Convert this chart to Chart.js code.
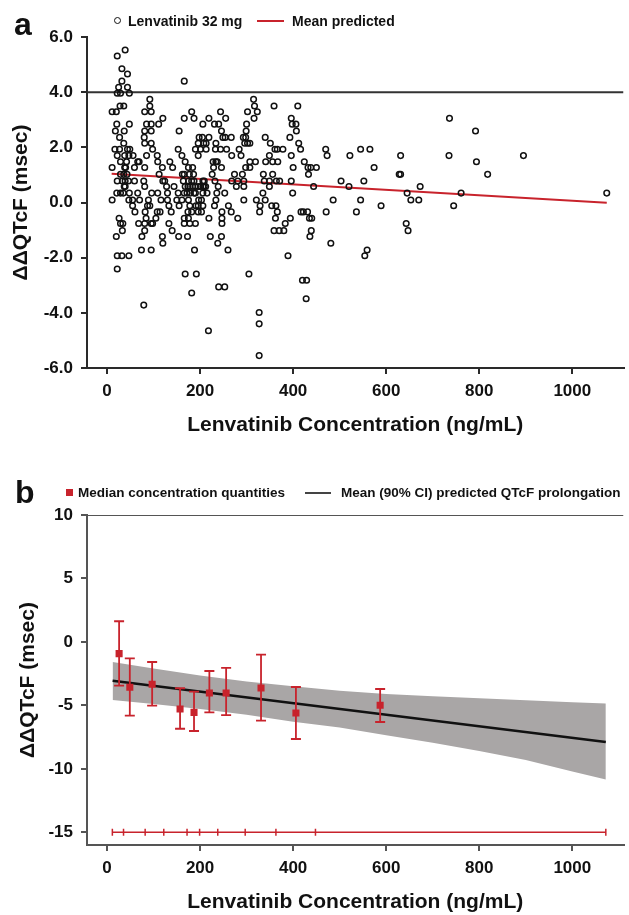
<!DOCTYPE html>
<html>
<head>
<meta charset="utf-8">
<script src="https://cdn.jsdelivr.net/npm/chart.js@4.4.1/dist/chart.umd.min.js"></script>
<style>
html,body{margin:0;padding:0;background:#fff;}
body{width:629px;height:915px;position:relative;overflow:hidden;font-family:"Liberation Sans",Arial,sans-serif;color:#111;}
canvas{position:absolute;left:0;}
#ca{top:0;}
#cb{top:460px;}
.t{position:absolute;font-weight:bold;white-space:nowrap;line-height:1;}
.sw{position:absolute;}
</style>
</head>
<body>
<canvas id="ca" width="629" height="450"></canvas>
<canvas id="cb" width="629" height="455"></canvas>

<div class="t" style="left:14px;top:8px;font-size:32px;">a</div>
<div class="sw" style="left:114px;top:17px;width:5px;height:5px;border:1.6px solid #111;border-radius:50%;"></div>
<div class="t" style="left:128px;top:14px;font-size:14px;">Lenvatinib 32 mg</div>
<div class="sw" style="left:257px;top:20px;width:27px;height:2px;background:#c8232c;"></div>
<div class="t" style="left:292px;top:14px;font-size:14px;">Mean predicted</div>

<div class="t" style="left:15px;top:476px;font-size:32px;">b</div>
<div class="sw" style="left:66px;top:489px;width:7px;height:7px;background:#c8232c;"></div>
<div class="t" style="left:78px;top:486px;font-size:13.5px;">Median concentration quantities</div>
<div class="sw" style="left:305px;top:492px;width:26px;height:2px;background:#444;"></div>
<div class="t" style="left:341px;top:486px;font-size:13.5px;">Mean (90% CI) predicted QTcF prolongation</div>

<script>
// ---------- shared ----------
const RED = '#c8232c';
const xTicks = [0, 200, 400, 600, 800, 1000];
const X_MIN = -43, X_MAX = 1110;
const X_TITLE = 'Lenvatinib Concentration (ng/mL)';
const Y_TITLE = 'ΔΔQTcF (msec)';

// ---------- panel a : observed ΔΔQTcF (grouped by observed value) ----------
const dqtLevelsA = [5.53, 5.31, 4.85, 4.66, 4.40, 4.18, 3.96, 3.74, 3.50, 3.29,
  3.05, 2.84, 2.59, 2.36, 2.15, 1.93, 1.70, 1.48, 1.27, 1.02,
  0.78, 0.58, 0.34, 0.09, -0.12, -0.34, -0.57, -0.76, -1.02, -1.23,
  -1.48, -1.72, -1.93, -2.41, -2.59, -2.82, -3.06, -3.28, -3.49, -3.72,
  -3.99, -4.40, -4.65, -5.55];
const concAtLevelA = [
  [39],
  [22],
  [32],
  [44],
  [32, 166],
  [25, 44],
  [22, 29, 48],
  [92, 315],
  [28, 36, 92, 317, 359, 410],
  [11, 20, 81, 95, 182, 244, 302, 323],
  [120, 166, 187, 219, 255, 316, 396, 736],
  [21, 48, 85, 95, 111, 206, 231, 240, 300, 398, 406],
  [18, 37, 81, 95, 155, 246, 299, 407, 792],
  [27, 80, 198, 205, 219, 249, 254, 267, 293, 298, 340, 393],
  [36, 81, 95, 196, 208, 213, 234, 296, 302, 307, 351, 412],
  [17, 27, 44, 49, 98, 153, 190, 201, 213, 233, 244, 257, 284, 361, 366, 378, 416, 470, 545, 565],
  [22, 38, 47, 56, 85, 108, 161, 196, 268, 288, 349, 396, 473, 522, 631, 735, 895],
  [29, 42, 66, 69, 109, 135, 168, 228, 234, 237, 307, 319, 341, 356, 367, 424, 794],
  [11, 38, 40, 59, 81, 119, 141, 175, 184, 229, 246, 298, 307, 400, 432, 438, 450, 574],
  [29, 36, 43, 112, 162, 166, 177, 186, 226, 274, 291, 336, 356, 433, 628, 631, 818],
  [22, 33, 39, 46, 59, 79, 120, 124, 164, 175, 182, 187, 206, 209, 232, 268, 281, 294, 338, 349, 364, 371, 396, 503, 552],
  [37, 39, 81, 128, 144, 168, 174, 178, 184, 190, 196, 201, 206, 209, 212, 239, 278, 294, 349, 444, 520, 673],
  [21, 29, 35, 48, 66, 96, 109, 130, 153, 166, 172, 179, 187, 190, 206, 215, 236, 253, 335, 399, 645, 761, 1074],
  [11, 47, 55, 70, 89, 116, 130, 150, 161, 175, 197, 203, 234, 294, 321, 340, 486, 545, 653, 670],
  [55, 87, 92, 133, 155, 178, 191, 196, 206, 231, 261, 329, 354, 363, 589, 745],
  [60, 82, 108, 114, 138, 174, 182, 196, 203, 247, 267, 328, 366, 417, 422, 431, 471, 536],
  [26, 84, 105, 166, 175, 219, 247, 281, 362, 394, 435, 440],
  [29, 34, 68, 81, 95, 98, 133, 166, 178, 190, 247, 383, 643],
  [33, 81, 140, 359, 370, 380, 439, 647],
  [20, 75, 119, 154, 173, 222, 246, 436],
  [120, 238, 481],
  [74, 95, 188, 260, 559],
  [22, 32, 47, 389, 554],
  [22],
  [168, 192, 305],
  [420, 429],
  [240, 253],
  [182],
  [428],
  [79],
  [327],
  [327],
  [218],
  [327]
];
const meanPredConcA = [10, 1074];
const meanPredA = [1.04, -0.01];
const REF_LINE_A = 4.0;
const yTicksA = [-6, -4, -2, 0, 2, 4, 6];

// ---------- panel b ----------
const medConc = [26, 49, 97, 157, 187, 220, 256, 331, 406, 587];
const medDqt  = [-0.92, -3.57, -3.34, -5.28, -5.55, -4.02, -4.02, -3.63, -5.60, -4.99];
const medLo   = [-3.45, -5.81, -5.02, -6.84, -7.02, -5.55, -5.76, -6.20, -7.65, -6.31];
const medHi   = [1.63, -1.29, -1.58, -3.65, -3.92, -2.29, -2.05, -1.00, -3.55, -3.71];
const quantBounds = [11.5, 35.5, 82, 122, 172, 199, 238, 297, 363, 448, 1072];
const QUANT_Y = -15;
const predConcB = [12, 1072];
const predMeanB = [-3.05, -7.89];
const ciConc  = [12, 100, 200, 300, 400, 500, 600, 700, 800, 900, 1000, 1072];
const ciUpper = [-1.58, -2.10, -2.65, -3.12, -3.50, -3.85, -4.10, -4.28, -4.44, -4.60, -4.76, -4.86];
const ciLower = [-4.57, -4.90, -5.28, -5.73, -6.28, -6.75, -7.35, -7.95, -8.60, -9.30, -10.20, -10.83];
const TOP_LINE_B = 10;
const yTicksB = [-15, -10, -5, 0, 5, 10];

// ---------- build ----------
Chart.defaults.font.family = '"Liberation Sans", Arial, sans-serif';
Chart.defaults.color = '#111';

const pointsA = [];
dqtLevelsA.forEach((v, i) => concAtLevelA[i].forEach(c => pointsA.push({x: c, y: v})));
const zip = (xs, ys) => xs.map((x, i) => ({x, y: ys[i]}));

const tickFont = {size: 17, weight: 'bold'};
const titleFont = {size: 21, weight: 'bold'};

function xScale(height, axisColor, titlePadBottom) {
  return {
    type: 'linear', min: X_MIN, max: X_MAX,
    afterBuildTicks: s => { s.ticks = xTicks.map(v => ({value: v})); },
    afterFit: s => { s.height = height; },
    grid: {drawOnChartArea: false, drawTicks: true, tickLength: 6, color: axisColor, lineWidth: 2},
    border: {display: true, color: axisColor, width: 2},
    ticks: {font: tickFont, color: '#111', padding: 7, maxRotation: 0, autoSkip: false,
            callback: v => String(v)},
    title: {display: true, text: X_TITLE, font: titleFont, color: '#111', padding: {top: 0, bottom: titlePadBottom}}
  };
}
function yScale(min, max, ticks, fmt, axisColor, titlePadTop) {
  return {
    type: 'linear', min, max,
    afterBuildTicks: s => { s.ticks = ticks.map(v => ({value: v})); },
    afterFit: s => { s.width = 87; },
    grid: {drawOnChartArea: false, drawTicks: true, tickLength: 6, color: axisColor, lineWidth: 2},
    border: {display: true, color: axisColor, width: 2},
    ticks: {font: tickFont, color: '#111', padding: 8, callback: fmt},
    title: {display: true, text: Y_TITLE, font: titleFont, color: '#111', padding: {top: titlePadTop, bottom: 0}}
  };
}

new Chart(document.getElementById('ca'), {
  type: 'scatter',
  data: {
    datasets: [
      {label: 'Lenvatinib 32 mg', data: pointsA, pointStyle: 'circle', pointRadius: 2.8,
       borderColor: '#111', pointBorderWidth: 1.5, backgroundColor: 'rgba(255,255,255,0)', order: 0},
      {label: 'Mean predicted', type: 'line', data: zip(meanPredConcA, meanPredA),
       borderColor: RED, borderWidth: 2, pointRadius: 0, fill: false, order: 1},
      {label: 'reference', type: 'line', data: zip([X_MIN, X_MAX], [REF_LINE_A, REF_LINE_A]),
       borderColor: '#333', borderWidth: 2, pointRadius: 0, fill: false, order: 2}
    ]
  },
  options: {
    responsive: false, animation: false, devicePixelRatio: 1,
    layout: {padding: {top: 37, right: 0, left: 0, bottom: 0}},
    plugins: {legend: {display: false}, tooltip: {enabled: false}},
    scales: {
      x: xScale(82, '#2a2a2a', 12),
      y: yScale(-6, 6, yTicksA, v => v.toFixed(1), '#2a2a2a', 9)
    }
  }
});

const errorBarPlugin = {
  id: 'errorBars',
  beforeDatasetDraw(chart, args, opts) {
    if (!opts || !opts.enabled || args.index !== opts.datasetIndex) return;
    const ctx = chart.ctx, xs = chart.scales.x, ys = chart.scales.y;
    ctx.save();
    ctx.strokeStyle = opts.color;
    ctx.lineWidth = opts.width;
    medConc.forEach((c, i) => {
      const px = xs.getPixelForValue(c);
      const pHi = ys.getPixelForValue(medHi[i]);
      const pLo = ys.getPixelForValue(medLo[i]);
      ctx.beginPath();
      ctx.moveTo(px, pHi); ctx.lineTo(px, pLo);
      ctx.moveTo(px - opts.cap, pHi); ctx.lineTo(px + opts.cap, pHi);
      ctx.moveTo(px - opts.cap, pLo); ctx.lineTo(px + opts.cap, pLo);
      ctx.stroke();
    });
    ctx.restore();
  }
};

new Chart(document.getElementById('cb'), {
  type: 'scatter',
  plugins: [errorBarPlugin],
  data: {
    datasets: [
      {label: 'Median concentration quantities', data: zip(medConc, medDqt), pointStyle: 'rect',
       pointRadius: 5, backgroundColor: RED, borderColor: RED, pointBorderWidth: 0, order: 0},
      {label: 'Concentration quantile bins', type: 'line', data: quantBounds.map(b => ({x: b, y: QUANT_Y})),
       borderColor: RED, borderWidth: 1.5, pointStyle: 'line', pointRotation: 90, pointRadius: 3.5,
       pointBorderWidth: 1.5, pointBorderColor: RED, fill: false, order: 1},
      {label: 'top', type: 'line', data: zip([X_MIN, X_MAX], [TOP_LINE_B, TOP_LINE_B]),
       borderColor: '#555', borderWidth: 2, pointRadius: 0, fill: false, order: 2},
      {label: 'Mean (90% CI) predicted QTcF prolongation', type: 'line', data: zip(predConcB, predMeanB),
       borderColor: '#111', borderWidth: 2.5, pointRadius: 0, fill: false, order: 3},
      {label: 'CI upper', type: 'line', data: zip(ciConc, ciUpper), borderWidth: 0, borderColor: 'rgba(0,0,0,0)',
       pointRadius: 0, fill: '+1', backgroundColor: '#a9a6a6', order: 4},
      {label: 'CI lower', type: 'line', data: zip(ciConc, ciLower), borderWidth: 0, borderColor: 'rgba(0,0,0,0)',
       pointRadius: 0, fill: false, order: 5}
    ]
  },
  options: {
    responsive: false, animation: false, devicePixelRatio: 1,
    layout: {padding: {top: 55, right: 0, left: 0, bottom: 0}},
    plugins: {
      legend: {display: false}, tooltip: {enabled: false},
      errorBars: {enabled: true, datasetIndex: 0, color: RED, width: 1.8, cap: 5},
      filler: {propagate: false}
    },
    scales: {
      x: xScale(70, '#555', 0),
      y: yScale(-16, 10, yTicksB, v => String(v), '#555', 16)
    }
  }
});
</script>
</body>
</html>
